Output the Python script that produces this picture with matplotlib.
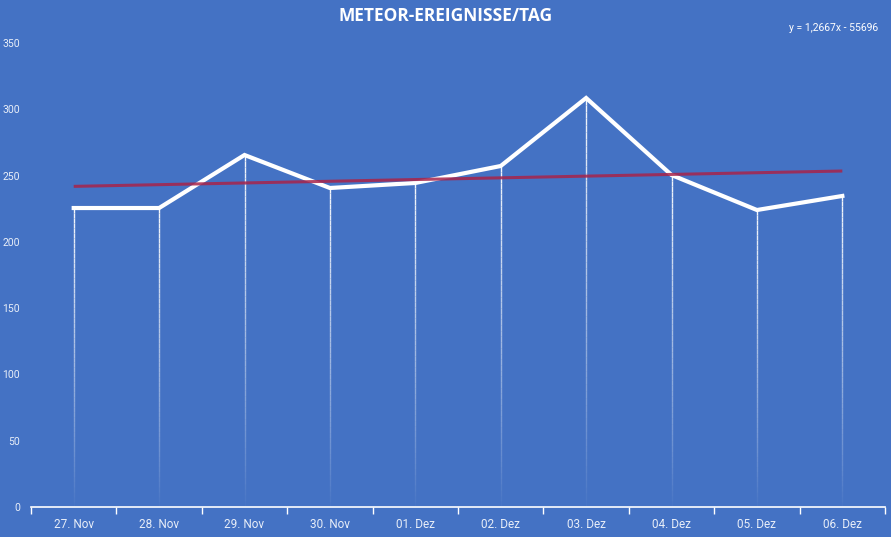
import numpy as np
import matplotlib.pyplot as plt
from matplotlib.collections import LineCollection

days = ["27. Nov", "28. Nov", "29. Nov", "30. Nov", "01. Dez",
        "02. Dez", "03. Dez", "04. Dez", "05. Dez", "06. Dez"]
events = [225.5, 225.5, 265.5, 240.6, 244.4, 257.2, 308.5, 250.4, 224.0, 234.6]
y_ticks = [0, 50, 100, 150, 200, 250, 300, 350]
equation = "y = 1,2667x - 55696"

plt.rcParams["font.family"] = ["Roboto", "DejaVu Sans"]

bg = "#4472C4"
fig = plt.figure(figsize=(8.91, 5.37), dpi=100, facecolor=bg)
ax = fig.add_axes([0.0348, 0.0559, 0.9585, 0.8641])
ax.set_facecolor(bg)

x = np.arange(len(days))

# fading drop lines
segs, cols = [], []
n = 60
for xi, yi in zip(x, events):
    ys = np.linspace(yi, 0, n + 1)
    for k in range(n):
        segs.append([(xi, ys[k]), (xi, ys[k + 1])])
        a = 0.95 * (1 - k / n) ** 0.9
        cols.append((1, 1, 1, a))
ax.add_collection(LineCollection(segs, colors=cols, linewidths=1.0, zorder=2))

ax.plot(x, events, color="white", lw=3.0, zorder=3, solid_joinstyle="miter")

# linear trend
m, b = np.polyfit(x, events, 1)
ax.plot(x, m * x + b, color="#A8244A", lw=2.2, alpha=0.85, zorder=4,
        solid_capstyle="butt")

ax.set_xlim(-0.5, len(days) - 0.5)
ax.set_ylim(0, 350)
ax.set_xticks(x)
ax.set_xticklabels(days)
ax.set_xticks(np.arange(-0.5, len(days)), minor=True)
ax.tick_params(axis="x", which="major", length=0, pad=8, labelsize=8.5,
               labelcolor="#E8EEF8")
ax.tick_params(axis="x", which="minor", length=5, width=1, color="white")
ax.set_yticks(y_ticks)
ax.tick_params(axis="y", length=0, pad=8, labelsize=7.5, labelcolor="#E8EEF8")

for s in ["top", "right", "left"]:
    ax.spines[s].set_visible(False)
ax.spines["bottom"].set_color("white")
ax.spines["bottom"].set_linewidth(1.2)

fig.text(0.5, 0.970, "METEOR-EREIGNISSE/TAG", ha="center", va="center",
         color="white", fontsize=12.5, fontweight="bold", family="Open Sans")
fig.text(0.986, 0.947, equation, ha="right", va="center", color="white",
         fontsize=7.5)

fig.savefig("out.png", dpi=100, facecolor=bg)
